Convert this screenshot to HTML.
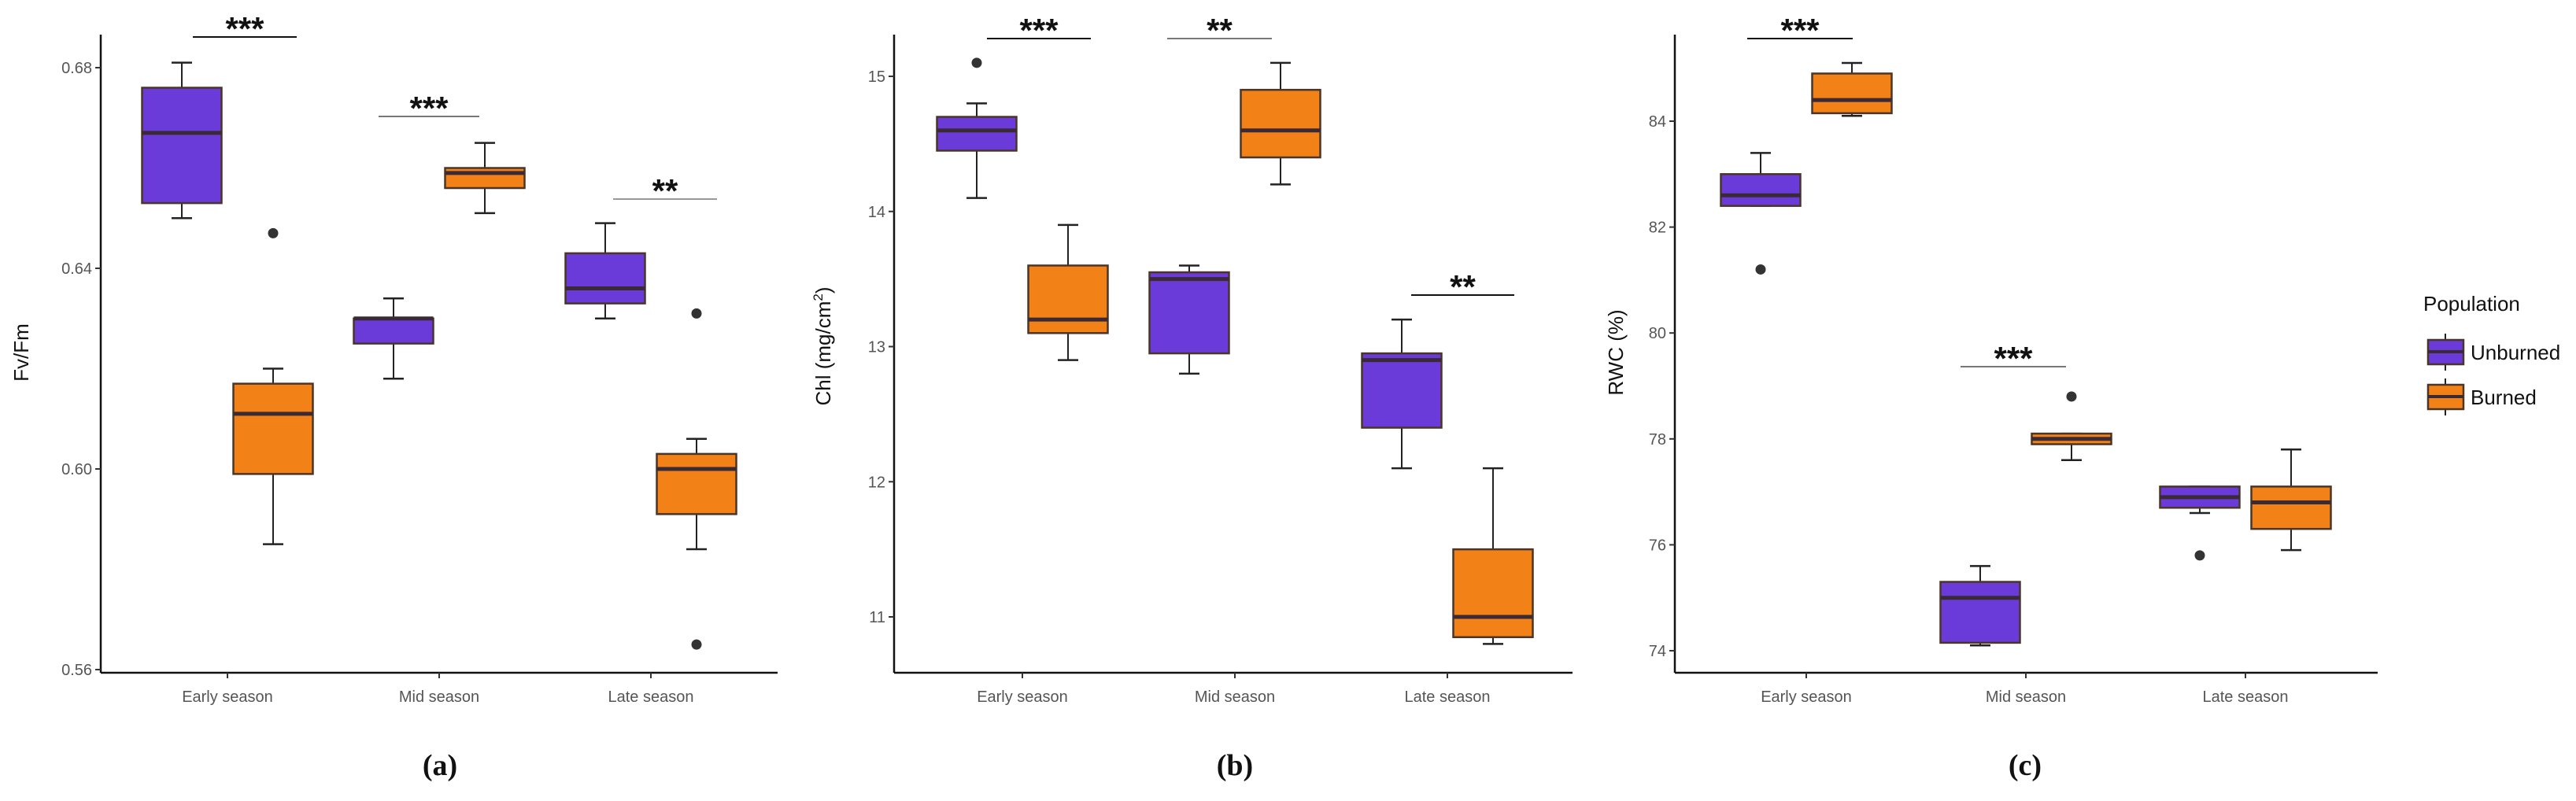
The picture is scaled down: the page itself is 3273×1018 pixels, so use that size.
<!DOCTYPE html>
<html><head><meta charset="utf-8"><style>
html,body{margin:0;padding:0;background:#fff;}
svg{display:block;font-family:"Liberation Sans",sans-serif;}
</style></head><body>
<svg id="chart" width="3273" height="1018" viewBox="0 0 3273 1018" xmlns="http://www.w3.org/2000/svg"></svg>
<script>
const categories = ["Early season","Mid season","Late season"];
const groups = ["Unburned","Burned"];
// [low, q1, median, q3, high] per category, per group
const fvUnburned = [[0.650,0.653,0.667,0.676,0.681],[0.618,0.625,0.630,0.630,0.634],[0.630,0.633,0.636,0.643,0.649]];
const fvBurned = [[0.585,0.599,0.611,0.617,0.620],[0.651,0.656,0.659,0.660,0.665],[0.584,0.591,0.600,0.603,0.606]];
const fvOutU = [[],[],[]];
const fvOutB = [[0.647],[],[0.631,0.565]];
const fvTicks = [0.56,0.60,0.64,0.68];
const chlUnburned = [[14.1,14.45,14.6,14.7,14.8],[12.8,12.95,13.5,13.55,13.6],[12.1,12.4,12.9,12.95,13.2]];
const chlBurned = [[12.9,13.1,13.2,13.6,13.9],[14.2,14.4,14.6,14.9,15.1],[10.8,10.85,11.0,11.5,12.1]];
const chlOutU = [[15.1],[],[]];
const chlOutB = [[],[],[]];
const chlTicks = [11,12,13,14,15];
const rwcUnburned = [[82.4,82.4,82.6,83.0,83.4],[74.1,74.15,75.0,75.3,75.6],[76.6,76.7,76.9,77.1,77.1]];
const rwcBurned = [[84.1,84.15,84.4,84.9,85.1],[77.6,77.9,78.0,78.1,78.1],[75.9,76.3,76.8,77.1,77.8]];
const rwcOutU = [[81.2],[],[75.8]];
const rwcOutB = [[],[78.8],[]];
const rwcTicks = [74,76,78,80,82,84];

const NS="http://www.w3.org/2000/svg";
const svg=document.getElementById('chart');
function mk(tag,attrs,parent){const e=document.createElementNS(NS,tag);for(const k in attrs)e.setAttribute(k,attrs[k]);(parent||svg).appendChild(e);return e;}
const COL=["#6a3bd9","#f28118"];

function panel(p){
  const g=mk('g',{});
  
  
  const y=v=>p.y0+(v-p.v0)*(p.y1-p.y0)/(p.v1-p.v0);
  const x=i=>p.cx0+i*p.dx;
  const ya=mk('line',{x1:p.ax,y1:44,x2:p.ax,y2:855,stroke:'#111','stroke-width':2.5},g);
  
  const xa=mk('line',{x1:p.ax,y1:855,x2:p.axEnd,y2:855,stroke:'#111','stroke-width':2.5},g);
  
  p.ticks.forEach(t=>{
    mk('line',{x1:p.ax-7,x2:p.ax,y1:y(t),y2:y(t),stroke:'#333','stroke-width':2},g);
    const tx=mk('text',{x:p.ax-11,y:y(t)+7,'text-anchor':'end','font-size':20,fill:'#555'},g);
    tx.textContent=p.fmt(t);
    
  });
  categories.forEach((c,i)=>{
    mk('line',{x1:x(i),x2:x(i),y1:855,y2:862,stroke:'#333','stroke-width':2},g);
    const tx=mk('text',{x:x(i),y:892,'text-anchor':'middle','font-size':20,fill:'#555'},g);
    tx.textContent=c;
    
  });
  const yt=mk('text',{x:0,y:0,'text-anchor':'middle','font-size':26,fill:'#111',transform:`translate(${p.ylx},${p.yly}) rotate(-90)`},g);
  yt.innerHTML=p.ylabel;
  
  [p.U,p.B].forEach((ser,gi)=>{
    ser.forEach((s,i)=>{
      const cx=x(i)+(gi?58:-58),w=101;
      const bg=mk('g',{},g);
      
      
      mk('line',{x1:cx,x2:cx,y1:y(s[4]),y2:y(s[3]),stroke:'#222','stroke-width':2},bg);
      mk('line',{x1:cx,x2:cx,y1:y(s[1]),y2:y(s[0]),stroke:'#222','stroke-width':2},bg);
      mk('line',{x1:cx-13,x2:cx+13,y1:y(s[4]),y2:y(s[4]),stroke:'#222','stroke-width':2.5},bg);
      mk('line',{x1:cx-13,x2:cx+13,y1:y(s[0]),y2:y(s[0]),stroke:'#222','stroke-width':2.5},bg);
      mk('rect',{x:cx-w/2,y:y(s[3]),width:w,height:Math.max(1,y(s[1])-y(s[3])),fill:COL[gi],stroke:'#4b3526','stroke-width':2.5},bg);
      mk('line',{x1:cx-w/2,x2:cx+w/2,y1:y(s[2]),y2:y(s[2]),stroke:'#3a2a35','stroke-width':5},bg);
      (gi?p.OB:p.OU)[i].forEach(o=>{
        const c=mk('circle',{cx:cx,cy:y(o),r:6.5,fill:'#333'},bg);
        
      });
    });
  });
  p.sig.forEach(s=>{
    const l=mk('line',{x1:s[0],x2:s[1],y1:s[2],y2:s[2],stroke:s[4],'stroke-width':2},g);
    
    const t=mk('text',{x:(s[0]+s[1])/2,y:s[2]+4,'text-anchor':'middle','font-size':42,'font-weight':'bold',fill:'#111'},g);
    t.textContent=s[3];
    
  });
  const cap=mk('text',{x:p.capx,y:985,'text-anchor':'middle','font-size':38,'font-weight':'bold','font-family':'Liberation Serif, serif',fill:'#111'},g);
  cap.textContent=p.cap;
  
}

panel({name:'panel-a-fvfm',ax:128,axEnd:988,cx0:289,dx:269,v0:0.56,v1:0.68,y0:851,y1:86,ticks:fvTicks,fmt:t=>t.toFixed(2),
  U:fvUnburned,B:fvBurned,OU:fvOutU,OB:fvOutB,ylabel:'Fv/Fm',ylx:36,yly:448,
  sig:[[245,377,47,'***','#111'],[481,609,148,'***','#777'],[779,911,253,'**','#999']],cap:'(a)',capx:559});
panel({name:'panel-b-chl',ax:1136,axEnd:1998,cx0:1299,dx:270,v0:11,v1:15,y0:784,y1:97,ticks:chlTicks,fmt:t=>String(t),
  U:chlUnburned,B:chlBurned,OU:chlOutU,OB:chlOutB,ylabel:'Chl  (mg/cm<tspan dy="-10" font-size="17">2</tspan><tspan dy="10">)</tspan>',ylx:1055,yly:440,
  sig:[[1254,1386,49,'***','#111'],[1483,1616,49,'**','#777'],[1793,1924,375,'**','#111']],cap:'(b)',capx:1569});
panel({name:'panel-c-rwc',ax:2128,axEnd:3021,cx0:2295,dx:279,v0:74,v1:84,y0:827,y1:154,ticks:rwcTicks,fmt:t=>String(t),
  U:rwcUnburned,B:rwcBurned,OU:rwcOutU,OB:rwcOutB,ylabel:'RWC (%)',ylx:2062,yly:448,
  sig:[[2220,2354,49,'***','#111'],[2491,2625,466,'***','#777']],cap:'(c)',capx:2573});

const lg=mk('g',{});


const lt=mk('text',{x:3079,y:395,'font-size':26,fill:'#111'},lg);
lt.textContent='Population';

groups.forEach((n,i)=>{
  const y0=432+i*57;
  const e=mk('g',{},lg);
  
  
  mk('line',{x1:3107,x2:3107,y1:y0-8,y2:y0+39,stroke:'#222','stroke-width':2},e);
  mk('rect',{x:3085,y:y0,width:45,height:31,fill:COL[i],stroke:'#4b3526','stroke-width':2.5},e);
  mk('line',{x1:3085,x2:3130,y1:y0+15,y2:y0+15,stroke:'#3a2a35','stroke-width':4},e);
  const t=mk('text',{x:3139,y:y0+25,'font-size':26,fill:'#111'},e);
  t.textContent=n;
});
</script>
</body></html>
